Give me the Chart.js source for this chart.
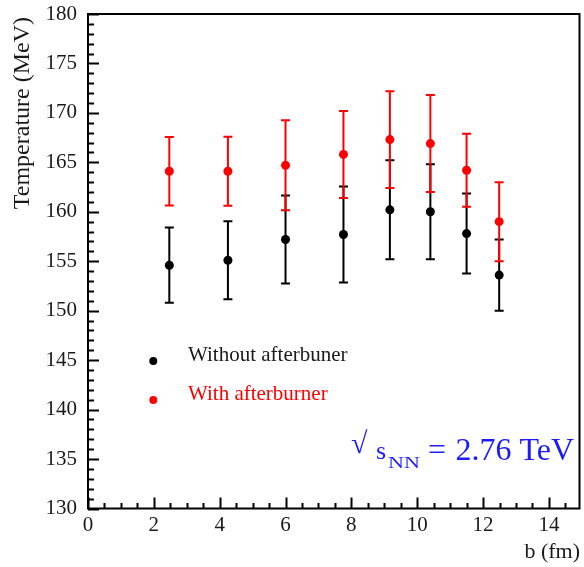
<!DOCTYPE html>
<html>
<head>
<meta charset="utf-8">
<script src="https://cdn.jsdelivr.net/npm/chart.js@4"></script>
<style>
  html, body { margin: 0; padding: 0; background: #ffffff; }
  canvas { display: block; }
</style>
</head>
<body>
<canvas id="c" width="584" height="567"></canvas>
<script>
// Impact parameter b (fm) of each centrality bin
const impactB = [2.47, 4.25, 6.0, 7.76, 9.17, 10.4, 11.5, 12.49];

// Freeze-out temperature (MeV) and its uncertainty
const tempNoAfter = [154.6, 155.1, 157.2, 157.7, 160.2, 160.0, 157.8, 153.6];
const errNoAfter  = [3.8, 3.95, 4.45, 4.85, 5.0, 4.8, 4.05, 3.6];
const tempAfter   = [164.1, 164.1, 164.7, 165.8, 167.3, 166.9, 164.2, 159.0];
const errAfter    = [3.47, 3.5, 4.55, 4.4, 4.9, 4.9, 3.7, 4.0];

const seriesNames = ['Without afterbuner', 'With afterburner'];

// Axis tick labels
const xTickValues = [0, 2, 4, 6, 8, 10, 12, 14];
const yTickValues = [130, 135, 140, 145, 150, 155, 160, 165, 170, 175, 180];

const SERIF = '"Liberation Serif", "Times New Roman", serif';

function toPoints(xs, ys, es) {
  return xs.map((x, i) => ({ x: x, y: ys[i], err: es[i] }));
}

// Vertical error bars with caps, drawn through the chart scales
const errorBars = {
  id: 'errorBars',
  beforeDatasetsDraw(chart) {
    const ctx = chart.ctx;
    const xs = chart.scales.x, ys = chart.scales.y;
    chart.data.datasets.forEach((ds) => {
      ctx.save();
      ctx.strokeStyle = ds.backgroundColor;
      ctx.lineWidth = 2;
      ds.data.forEach((p) => {
        const px = xs.getPixelForValue(p.x);
        const top = ys.getPixelForValue(p.y + p.err);
        const bot = ys.getPixelForValue(p.y - p.err);
        const cap = 4.5;
        ctx.beginPath();
        ctx.moveTo(px, top); ctx.lineTo(px, bot);
        ctx.moveTo(px - cap, top); ctx.lineTo(px + cap, top);
        ctx.moveTo(px - cap, bot); ctx.lineTo(px + cap, bot);
        ctx.stroke();
      });
      ctx.restore();
    });
  }
};

// Frame, inward tick marks and the text annotations
const frameAndText = {
  id: 'frameAndText',
  afterDraw(chart) {
    const ctx = chart.ctx;
    const a = chart.chartArea;
    const xs = chart.scales.x, ys = chart.scales.y;
    ctx.save();

    // frame
    ctx.strokeStyle = '#000';
    ctx.lineWidth = 2;
    ctx.strokeRect(a.left, a.top, a.right - a.left, a.bottom - a.top);

    // y ticks (major every 5, minor every 1), pointing inward
    ctx.beginPath();
    for (let v = ys.min; v <= ys.max + 1e-6; v += 1) {
      const py = Math.round(ys.getPixelForValue(v)) + 0.5;
      const len = (Math.round(v) % 5 === 0) ? 11 : 6;
      ctx.moveTo(a.left, py); ctx.lineTo(a.left + len, py);
    }
    // x ticks (major every 2, minor every 0.5)
    for (let v = 0; v <= xs.max + 1e-6; v += 0.5) {
      const px = Math.round(xs.getPixelForValue(v)) + 0.5;
      const len = (Math.abs(v % 2) < 1e-6) ? 11 : 5.5;
      ctx.moveTo(px, a.bottom); ctx.lineTo(px, a.bottom - len);
    }
    ctx.lineWidth = 2;
    ctx.stroke();

    // axis titles
    ctx.fillStyle = '#1a1a1a';
    ctx.font = '24px ' + SERIF;
    ctx.save();
    ctx.translate(29, 17);
    ctx.rotate(-Math.PI / 2);
    ctx.textAlign = 'right';
    ctx.textBaseline = 'alphabetic';
    ctx.fillText('Temperature (MeV)', 0, 0);
    ctx.restore();

    ctx.font = '22px ' + SERIF;
    ctx.textAlign = 'right';
    ctx.textBaseline = 'alphabetic';
    ctx.fillText('b (fm)', 580, 558);

    // legend
    const legendColors = chart.data.datasets.map(d => d.backgroundColor);
    const rows = [{ dotY: 361, textY: 360.5 }, { dotY: 400, textY: 400 }];
    ctx.font = '21px ' + SERIF;
    ctx.textAlign = 'left';
    rows.forEach((r, i) => {
      ctx.fillStyle = legendColors[i];
      ctx.beginPath();
      ctx.arc(153.3, r.dotY, 4, 0, Math.PI * 2);
      ctx.fill();
      ctx.fillStyle = i === 0 ? '#1a1a1a' : legendColors[i];
      ctx.fillText(seriesNames[i], 188, r.textY);
    });

    // collision energy
    ctx.fillStyle = 'rgb(28, 28, 250)';
    ctx.textAlign = 'left';
    ctx.font = '30px ' + SERIF;
    ctx.fillText('\u221A', 351, 453);
    ctx.font = '26px ' + SERIF;
    ctx.fillText('s', 376, 459);
    ctx.save();
    ctx.translate(388, 468);
    ctx.scale(1.3, 1);
    ctx.font = '17px ' + SERIF;
    ctx.fillText('NN', 0, 0);
    ctx.restore();
    ctx.font = '32px ' + SERIF;
    ctx.fillText('=', 428, 460);
    ctx.textAlign = 'right';
    ctx.fillText('2.76 TeV', 574, 460);

    ctx.restore();
  }
};

new Chart(document.getElementById('c'), {
  type: 'scatter',
  data: {
    datasets: [
      {
        label: seriesNames[0],
        data: toPoints(impactB, tempNoAfter, errNoAfter),
        backgroundColor: '#000000',
        borderWidth: 0,
        pointRadius: 4.5,
        pointHoverRadius: 4.5
      },
      {
        label: seriesNames[1],
        data: toPoints(impactB, tempAfter, errAfter),
        backgroundColor: '#ff0000',
        borderWidth: 0,
        pointRadius: 4.5,
        pointHoverRadius: 4.5
      }
    ]
  },
  options: {
    responsive: false,
    animation: false,
    devicePixelRatio: 1,
    layout: { padding: { top: 14, right: 2.5, left: 0, bottom: 0 } },
    plugins: {
      legend: { display: false },
      tooltip: { enabled: false }
    },
    scales: {
      x: {
        type: 'linear',
        min: 0,
        max: 14.93,
        grid: { display: false, drawTicks: false },
        border: { display: false },
        afterBuildTicks(scale) { scale.ticks = xTickValues.map(v => ({ value: v })); },
        afterFit(scale) {
          scale.height = 58.5;
          scale.paddingLeft = 0;
          scale.paddingRight = 0;
        },
        ticks: {
          autoSkip: false,
          maxRotation: 0,
          padding: 4,
          color: '#1a1a1a',
          font: { family: SERIF, size: 21 }
        }
      },
      y: {
        type: 'linear',
        min: 130,
        max: 180,
        grid: { display: false, drawTicks: false },
        border: { display: false },
        afterBuildTicks(scale) { scale.ticks = yTickValues.map(v => ({ value: v })); },
        afterFit(scale) {
          scale.width = 88;
          scale.paddingTop = 0;
          scale.paddingBottom = 0;
        },
        ticks: {
          autoSkip: false,
          padding: 11,
          color: '#1a1a1a',
          font: { family: SERIF, size: 21 }
        }
      }
    }
  },
  plugins: [errorBars, frameAndText]
});
</script>
</body>
</html>
